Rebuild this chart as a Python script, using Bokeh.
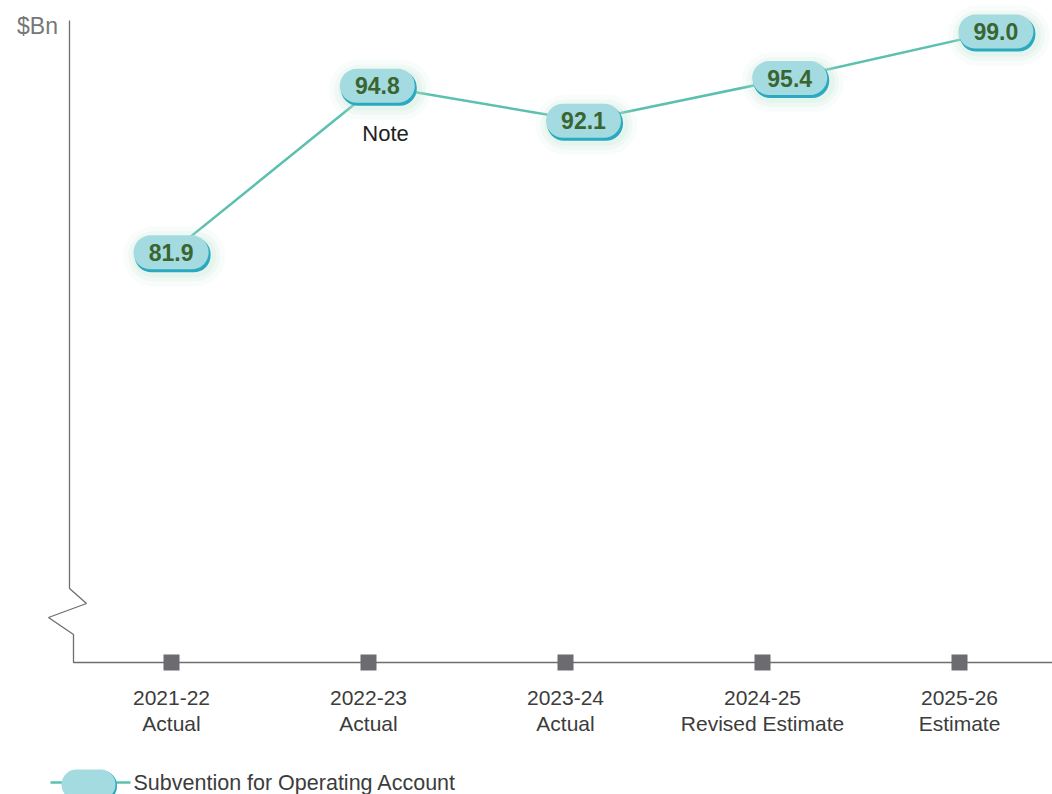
from bokeh.plotting import figure
from bokeh.models import Range1d
from bokeh.core.properties import value
from bokeh.embed import file_html
from bokeh.resources import INLINE

# ---- data ----
categories = ["2021-22", "2022-23", "2023-24", "2024-25", "2025-26"]
sublabels = ["Actual", "Actual", "Actual", "Revised Estimate", "Estimate"]
values = [81.9, 94.8, 92.1, 95.4, 99.0]
unit_label = "$Bn"
note_text = "Note"
series_name = "Subvention for Operating Account"

W, H = 1052, 794
# pixel <-> data mapping used for decorations (category axis)
X_PX0, X_STEP = 171.0, 197.0
# the series in the source is laid out on a slightly wider spacing
S_PX0, S_STEP = 170.6, 206.2
Y_TOP, Y_SCALE = 101.41, 12.91

def dx(px):
    return (px - X_PX0) / X_STEP

def dy(py):
    return Y_TOP - py / Y_SCALE

FONT = value("Liberation Sans")
TEAL_LINE = "#5cc0b0"
PILL = "#a4dbe0"
PILL_EDGE = "#2aa9c0"
TXT_GREEN = "#3a6531"

p = figure(width=W, height=H, output_backend="svg", toolbar_location=None,
           x_range=Range1d(dx(0), dx(W)), y_range=Range1d(dy(H), dy(0)),
           min_border=0, min_border_left=0, min_border_right=0,
           min_border_top=0, min_border_bottom=0)
p.extra_x_ranges = {"series": Range1d(-S_PX0 / S_STEP, (W - S_PX0) / S_STEP)}
p.axis.visible = False
p.grid.visible = False
p.outline_line_color = None
p.background_fill_color = "white"
p.border_fill_color = "white"

xs = list(range(len(categories)))

# axis with break
ax_x = [dx(69), dx(69), dx(86), dx(48), dx(73), dx(73), dx(1052)]
ax_y = [dy(20), dy(588), dy(603), dy(617), dy(634), dy(662), dy(662)]
p.line(ax_x, ax_y, line_color="#6e6e6e", line_width=1.3)

# category tick squares
p.scatter(xs, [dy(662)] * len(xs), marker="square", size=16,
          fill_color="#6b6b70", line_color=None)

# tick labels
p.text(xs, [dy(697)] * len(xs), text=categories, text_font=FONT,
       text_font_size="21px", text_color="#3c3c3c",
       text_align="center", text_baseline="middle")
p.text(xs, [dy(723)] * len(xs), text=sublabels, text_font=FONT,
       text_font_size="21px", text_color="#3c3c3c",
       text_align="center", text_baseline="middle")

# unit label
p.text([dx(37)], [dy(25)], text=[unit_label], text_font=FONT,
       text_font_size="23px", text_color="#777777",
       text_align="center", text_baseline="middle")

# series line
p.line(xs, values, line_color=TEAL_LINE, line_width=2.5, x_range_name="series")

# pills: glow, edge shadow, body
off_x = 3 / S_STEP
off_y = 4 / Y_SCALE
for w, h, a in [(102, 60, 0.10), (92, 50, 0.14), (84, 42, 0.18)]:
    p.rect([x + off_x for x in xs], [v - off_y for v in values], width=w, height=h,
           width_units="screen", height_units="screen", border_radius=h // 2,
           fill_color="#bfe3d2", fill_alpha=a, line_color=None, x_range_name="series")
p.rect([x + 1.5 / S_STEP for x in xs], [v - 2.5 / Y_SCALE for v in values],
       width=76, height=35, width_units="screen", height_units="screen",
       border_radius=17, fill_color=PILL_EDGE, line_color=None, x_range_name="series")
p.rect(xs, values, width=75, height=34, width_units="screen", height_units="screen",
       border_radius=17, fill_color=PILL, line_color=None, x_range_name="series")
p.text(xs, values, text=[f"{v:.1f}" for v in values], text_font=FONT,
       text_font_size="23px", text_font_style="bold", text_color=TXT_GREEN,
       text_align="center", text_baseline="middle", x_range_name="series")

# note
p.text([dx(385)], [dy(133)], text=[note_text], text_font=FONT,
       text_font_size="22px", text_color="#222222",
       text_align="center", text_baseline="middle")

# legend
p.line([dx(50), dx(130)], [dy(782), dy(782)], line_color=TEAL_LINE, line_width=2.5)
p.rect([dx(89.5)], [dy(785.5)], width=54, height=31, width_units="screen",
       height_units="screen", border_radius=15, fill_color=PILL_EDGE, line_color=None)
p.rect([dx(88)], [dy(784)], width=54, height=30, width_units="screen",
       height_units="screen", border_radius=15, fill_color=PILL, line_color=None)
p.text([dx(133)], [dy(782)], text=[series_name], text_font=FONT,
       text_font_size="21.5px", text_color="#3c3c3c",
       text_align="left", text_baseline="middle")

open("out.html", "w").write(file_html(p, INLINE))
